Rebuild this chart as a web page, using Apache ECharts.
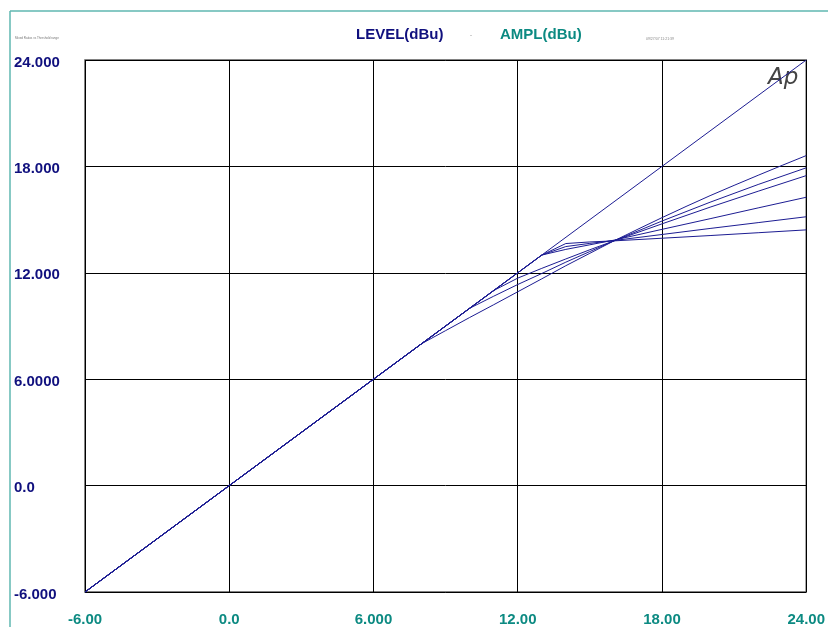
<!DOCTYPE html>
<html>
<head>
<meta charset="utf-8">
<script src="https://cdn.jsdelivr.net/npm/echarts@6/dist/echarts.min.js"></script>
<style>
  html, body { margin: 0; padding: 0; background: #ffffff; }
  #chart { width: 828px; height: 627px; }
</style>
</head>
<body>
<div id="chart"></div>
<script>
// Input level (dBu) against output amplitude (dBu) for a family of compressor settings.
const xTickLabels = ['-6.00', '0.0', '6.000', '12.00', '18.00', '24.00'];
const yTickLabels = ['-6.000', '0.0', '6.0000', '12.000', '18.000', '24.000'];

// Unity-gain reference
const unityIn  = [-6, 8, 13, 24];
const unityOut = [-6, 8, 13, 24];

// Soft knee, gentle ratio
const curveBIn  = [-6, 8, 9, 10, 11, 12, 13, 14, 15, 16, 17, 18, 19, 20, 21, 22, 23, 24];
const curveBOut = [-6, 8, 8.74, 9.48, 10.2, 10.93, 11.66, 12.4, 13.1, 13.8, 14.46, 15.11, 15.74, 16.35, 16.93, 17.5, 18.06, 18.61];

const curveCIn  = [-6, 10, 11, 12, 13, 14, 15, 16, 18, 20, 22, 24];
const curveCOut = [-6, 10, 10.68, 11.34, 11.96, 12.6, 13.2, 13.8, 14.92, 15.98, 16.98, 17.92];

const curveDIn  = [-6, 11, 12, 13, 14, 15, 16, 18, 20, 22, 24];
const curveDOut = [-6, 11, 11.7, 12.25, 12.78, 13.3, 13.8, 14.76, 15.7, 16.6, 17.48];

// Hard knee at 13 dBu
const hardIn    = [-6, 13, 14, 15, 16, 18, 20, 22, 24];
const curveEOut = [-6, 13, 13.32, 13.58, 13.84, 14.45, 15.05, 15.66, 16.26];
const curveFOut = [-6, 13, 13.48, 13.66, 13.82, 14.16, 14.5, 14.83, 15.16];
const curveGOut = [-6, 13, 13.65, 13.74, 13.8, 13.95, 14.1, 14.26, 14.42];

const traces = [
  [unityIn, unityOut],
  [curveBIn, curveBOut],
  [curveCIn, curveCOut],
  [curveDIn, curveDOut],
  [hardIn, curveEOut],
  [hardIn, curveFOut],
  [hardIn, curveGOut]
];

const NAVY = '#10107e';
const TEAL = '#0c8a82';
const FONT = '"Liberation Sans", Arial, sans-serif';

function pairs(xs, ys) {
  return xs.map((x, i) => [x, ys[i]]);
}

function tickFormatter(labels) {
  return function (v) {
    const idx = Math.round((v + 6) / 6);
    return labels[idx] !== undefined ? labels[idx] : '';
  };
}

const chart = echarts.init(document.getElementById('chart'), null, { renderer: 'canvas' });

chart.setOption({
  animation: false,
  backgroundColor: '#ffffff',
  grid: {
    left: 85, right: 21, top: 60, bottom: 33,
    show: true, borderColor: '#5a5a5a', borderWidth: 1.5, backgroundColor: 'transparent'
  },
  xAxis: {
    type: 'value', min: -6, max: 24, interval: 6,
    axisLine: { show: false },
    axisTick: { show: false },
    splitLine: { show: true, lineStyle: { color: '#000000', width: 1 } },
    axisLabel: {
      margin: 20, color: TEAL, fontSize: 15, fontWeight: 'bold', fontFamily: FONT,
      formatter: tickFormatter(xTickLabels)
    }
  },
  yAxis: {
    type: 'value', min: -6, max: 24, interval: 6,
    axisLine: { show: false },
    axisTick: { show: false },
    splitLine: { show: true, lineStyle: { color: '#000000', width: 1 } },
    axisLabel: {
      margin: 71, align: 'left', verticalAlign: 'top', lineHeight: 5,
      color: NAVY, fontSize: 15, fontWeight: 'bold', fontFamily: FONT,
      formatter: tickFormatter(yTickLabels)
    }
  },
  series: traces.map(t => ({
    type: 'line',
    data: pairs(t[0], t[1]),
    showSymbol: false,
    symbol: 'none',
    lineStyle: { color: '#1c1c92', width: 1 },
    silent: true
  })),
  graphic: [
    // outer page border (top and left)
    { type: 'line', shape: { x1: 10, y1: 11, x2: 828, y2: 11 }, style: { stroke: '#5fb7b0', lineWidth: 1.5 } },
    { type: 'line', shape: { x1: 10, y1: 11, x2: 10, y2: 627 }, style: { stroke: '#5fb7b0', lineWidth: 1.5 } },
    // header
    { type: 'text', left: 356, top: 27, style: { text: 'LEVEL(dBu)', fill: NAVY, font: 'bold 15px ' + FONT } },
    { type: 'text', left: 470, top: 32, style: { text: '-', fill: '#888888', font: '6px ' + FONT } },
    { type: 'text', left: 500, top: 27, style: { text: 'AMPL(dBu)', fill: TEAL, font: 'bold 15px ' + FONT } },
    { type: 'text', left: 15, top: 37, style: { text: 'Mixed Ratios vs Threshold range', fill: '#777777', font: '3px ' + FONT } },
    { type: 'text', left: 646, top: 37, style: { text: '09/27/07 11:21:39', fill: '#888888', font: '3.5px ' + FONT } },
    // logo
    { type: 'text', left: 768, top: 67, style: { text: 'Ap', fill: '#444444', font: 'italic 200 23px "DejaVu Sans ExtraLight", "DejaVu Sans", sans-serif' } }
  ]
});
</script>
</body>
</html>
